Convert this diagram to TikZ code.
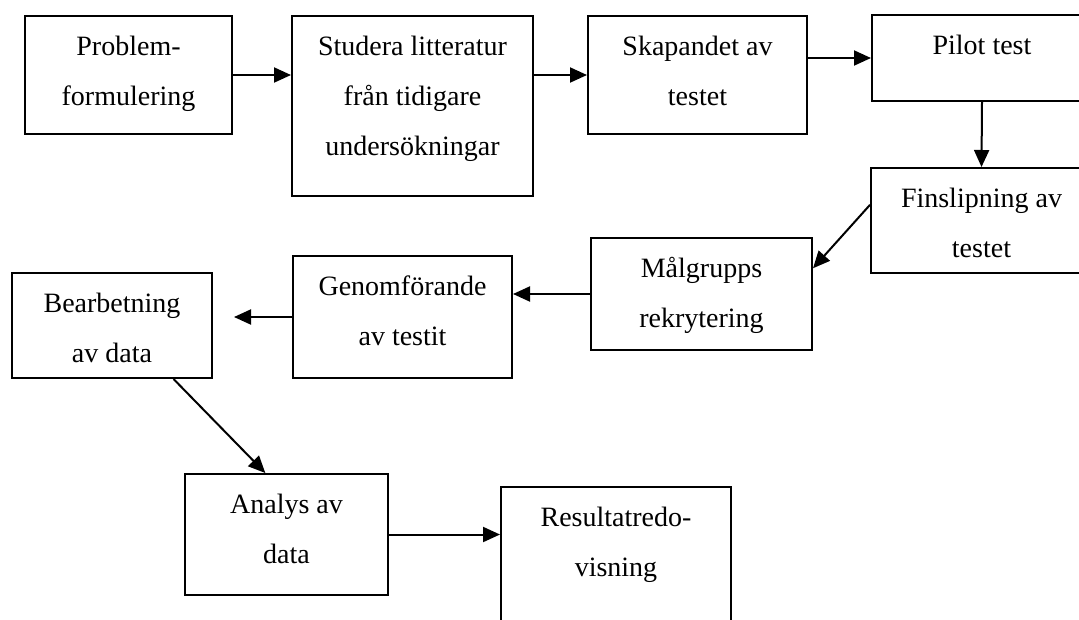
\documentclass[tikz,border=0pt]{standalone}
\usepackage{fontspec}
\setmainfont{Liberation Serif}
\usetikzlibrary{positioning,arrows.meta}
\tikzstyle{stepbox}=[draw,rectangle,inner sep=0pt,font=\fontsize{28}{50}\selectfont]
\newcommand{\newStep}[5]{\node[stepbox](#1) at (#3) {\parbox[c][#5pt][t]{#4pt}{\centering\rule{0pt}{39pt}#2}};}
\newcommand{\newArrow}[3]{\draw[->,#3] (#1) -- (#2);}

\begin{document}
\begin{tikzpicture}[x=1pt,y=-1pt,
  >={Triangle[length=17pt,width=15pt]},
  line width=2pt  %box and arrow lines
  ]
  \useasboundingbox (0,0) rectangle (1079,619);
  \clip (0,0) rectangle (1079,619);
  % first row
  \newStep{prob}{Problem-\\formulering}{128.5,75}{207}{118}
  \newStep{stud}{Studera litteratur\\från tidigare\\undersökningar}{412.5,106}{241}{180}
  \newStep{skap}{Skapandet av\\testet}{697.5,75}{219}{118}
  \newStep{pilot}{Pilot test}{982,58}{220}{86}
  % second row, right to left
  \newStep{fins}{Finslipning av\\testet}{981.5,220.5}{221}{105}
  \newStep{malg}{Målgrupps\\rekrytering}{701.5,294}{221}{112}
  \newStep{genom}{Genomförande\\av testit}{402.5,317}{219}{122}
  \newStep{bearb}{Bearbetning\\av data}{112,325.5}{200}{105}
  % last row
  \newStep{analys}{Analys av\\data}{286.5,534.5}{203}{121}
  \newStep{result}{Resultatredo-\\visning}{616,568.5}{230}{163}
  \newArrow{prob.east}{prob.east -| stud.west}{}
  \newArrow{stud.east |- skap.west}{skap.west}{}
  \newArrow{skap.east |- pilot.west}{pilot.west}{}
  \newArrow{pilot.south}{fins.north}{}
  \newArrow{fins.172}{malg.13}{}
  \newArrow{malg.west}{malg.west -| genom.east}{}
  \newArrow{genom.west}{genom.west -| bearb.east}{shorten >=21pt}
  \newArrow{bearb.-41}{analys.109.6}{}
  \newArrow{analys.east}{analys.east -| result.west}{}
\end{tikzpicture}
\end{document}
